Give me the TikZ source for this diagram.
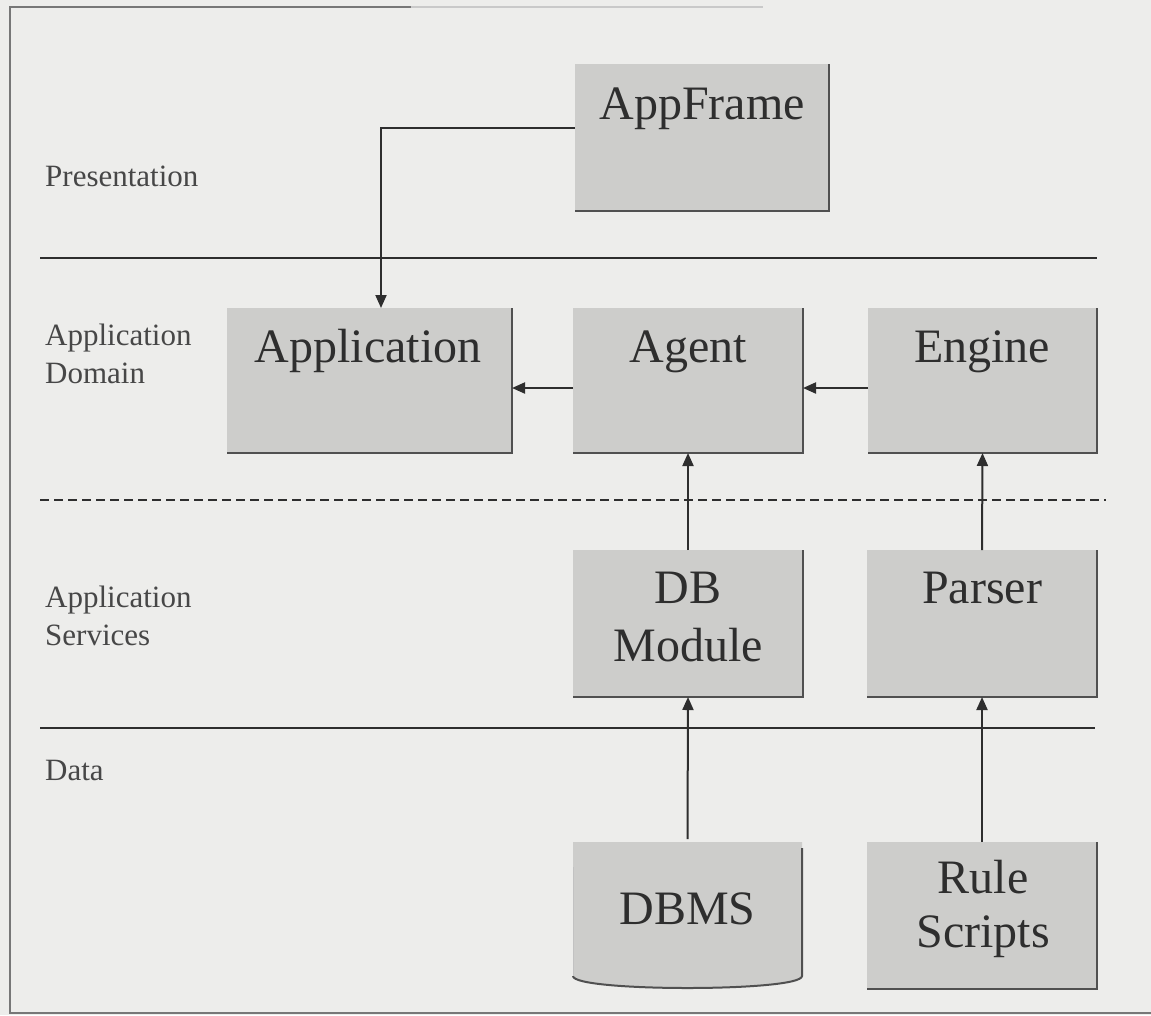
\documentclass[tikz,border=0pt]{standalone}
\usepackage{fontspec}
\setmainfont{Liberation Serif}
\usetikzlibrary{arrows.meta}
\definecolor{bg}{HTML}{EDEDEB}
\definecolor{boxfill}{HTML}{CDCDCB}
\definecolor{edgecol}{HTML}{505050}
\definecolor{ink}{HTML}{2E2E2E}
\definecolor{lbl}{HTML}{474747}
\definecolor{framecol}{HTML}{777777}
\tikzset{
  boxnode/.style n args={2}{fill=boxfill, draw=none, inner sep=0pt, outer sep=0pt,
     minimum width=#1, minimum height=#2},
  boxtext/.style={anchor=base, inner sep=0pt, text=ink, font=\fontsize{48}{48}\selectfont},
  laytext/.style={anchor=base west, inner sep=0pt, text=lbl, font=\fontsize{31}{31}\selectfont},
  shadowedge/.style={draw=edgecol, line width=2pt},
  divider/.style={draw=ink, line width=2.6pt},
  conn/.style={draw=ink, line width=2pt, -{Triangle[length=13pt,width=11pt]}},
}
\begin{document}
\begin{tikzpicture}[x=1pt,y=-1pt]
\fill[bg] (0,0) rectangle (1151,1015);
\useasboundingbox (0,0) rectangle (1151,1015);
% frame
\draw[framecol, line width=1.8pt] (411,7) -- (10,7) -- (10,1013) -- (1151,1013);
\draw[framecol!40, line width=1.4pt] (411,7) -- (763,7);

% layer dividers
\draw[divider] (40,258) -- (1097,258);
\draw[divider, dash pattern=on 9pt off 5pt, line width=2pt] (40,500) -- (1106,500);
\draw[divider] (40,728) -- (1095,728);

% layer labels
\node[laytext] (lpres) at (45,186) {Presentation};
\node[laytext] (ldom1) at (45,345) {Application};
\node[laytext] (ldom2) at (45,383) {Domain};
\node[laytext] (lsrv1) at (45,607) {Application};
\node[laytext] (lsrv2) at (45,645) {Services};
\node[laytext] (ldata) at (45,780) {Data};

% boxes
\node[boxnode={254pt}{147pt}] (af) at (702,137.5) {};
\node[boxnode={285pt}{145pt}] (app) at (369.5,380.5) {};
\node[boxnode={230pt}{145pt}] (ag) at (688,380.5) {};
\node[boxnode={229pt}{145pt}] (en) at (982.5,380.5) {};
\node[boxnode={230pt}{147pt}] (db) at (688,623.5) {};
\node[boxnode={230pt}{147pt}] (pa) at (982,623.5) {};
\node[boxnode={230pt}{147pt}] (rs) at (982,915.5) {};
\node[inner sep=0pt, outer sep=0pt, minimum width=229pt, minimum height=147pt] (dbms) at (687.5,915.5) {};

% box shadow edges
\foreach \b in {af,app,ag,en,db,pa,rs}{
  \draw[shadowedge] (\b.north east) -- (\b.south east) -- (\b.south west);
}

% DBMS cylinder
\fill[boxfill] (dbms.north west) -- (dbms.north east) -- ([yshift=13pt]dbms.south east)
  .. controls ([yshift=-3pt]dbms.south east) and ([yshift=-3pt]dbms.south west) .. ([yshift=13pt]dbms.south west) -- cycle;
\draw[shadowedge] ([yshift=-6pt]dbms.north east) -- ([yshift=13pt]dbms.south east)
  .. controls ([yshift=-3pt]dbms.south east) and ([yshift=-3pt]dbms.south west) .. ([yshift=13pt]dbms.south west);
\draw[edgecol!35, line width=0.8pt] ([yshift=-25pt]dbms.north west) -- ([yshift=13pt]dbms.south west);

% box texts
\node[boxtext] (aft) at (702,119) {AppFrame};
\node[boxtext] (appt) at (368,362) {Application};
\node[boxtext] (agt) at (688,362) {Agent};
\node[boxtext] (ent) at (982,362) {Engine};
\node[boxtext] (dbt1) at (688,603) {DB};
\node[boxtext] (dbt2) at (688,661) {Module};
\node[boxtext] (pat) at (982,603) {Parser};
\node[boxtext] (dbmst) at (687.5,924) {DBMS};
\node[boxtext] (rst1) at (983,893) {Rule};
\node[boxtext] (rst2) at (983,947) {Scripts};

% connectors
\draw[conn] ([yshift=9.5pt]af.west) -| ([xshift=11.5pt]app.north);
\draw[conn] ([yshift=-7.5pt]ag.west) -- ([yshift=-7.5pt]app.east);
\draw[conn] ([yshift=-7.5pt]en.west) -- ([yshift=-7.5pt]ag.east);
\draw[conn] (db.north) -- (ag.south);
\draw[conn] (pa.north) -- (en.south);
\draw[conn] ([yshift=3pt]dbms.north) -- (db.south);
\draw[conn] (rs.north) -- (pa.south);
\end{tikzpicture}
\end{document}
